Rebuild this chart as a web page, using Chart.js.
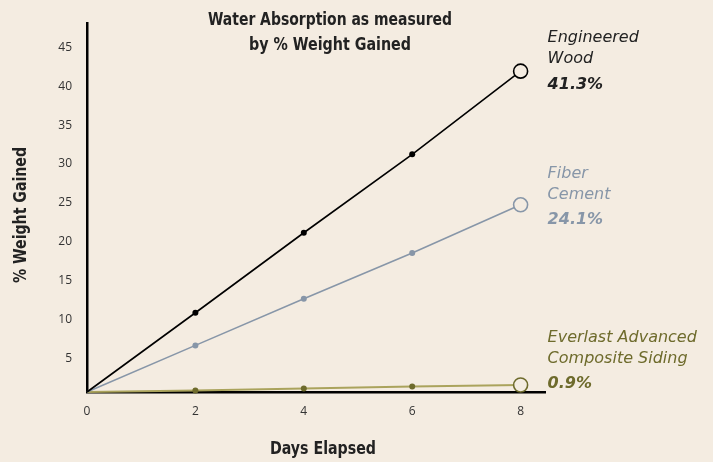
<!DOCTYPE html>
<html>
<head>
<meta charset="utf-8">
<script src="https://cdn.jsdelivr.net/npm/chart.js@4.4.0/dist/chart.umd.min.js"></script>
<style>
  html, body { margin: 0; padding: 0; background: #f4ece1; }
  #wrap { width: 713px; height: 462px; position: relative; }
</style>
</head>
<body>
<div id="wrap"><canvas id="c" width="713" height="462"></canvas></div>
<script>
// ---- data ----
const days = [0, 2, 4, 6, 8];
const engineeredWood = [0, 10.2, 20.5, 30.6, 41.3];
const fiberCement = [0, 6.0, 12.0, 17.9, 24.1];
const everlast = [0, 0.2, 0.45, 0.7, 0.9];
const seriesNames = [["Engineered", "Wood"], ["Fiber", "Cement"], ["Everlast Advanced", "Composite Siding"]];
const seriesLabels = ["41.3%", "24.1%", "0.9%"];
const yTicks = [5, 10, 15, 20, 25, 30, 35, 40, 45];
const xTicks = [0, 2, 4, 6, 8];
const titleLines = ["Water Absorption as measured", "by % Weight Gained"];
const xTitle = "Days Elapsed";
const yTitle = "% Weight Gained";

const BG = '#f4ece1';
const COND = '"Liberation Sans Narrow", "DejaVu Sans Condensed", "Roboto", sans-serif';
const ITAL = '"DejaVu Sans", "Open Sans", sans-serif';

const styles = [
  { line: '#000000', point: '#000000', text: '#222222', offsets: [-33, -12, 14] },
  { line: '#8796a8', point: '#8796a8', text: '#8796a8', offsets: [-31, -10, 15] },
  { line: '#aaa35c', point: '#6e6b2c', text: '#6e6b2c', offsets: [-47, -26, -1] }
];

function pts(vals) { return vals.map((v, i) => ({ x: days[i], y: v })); }
function radii(n) { return Array.from({ length: n }, (_, i) => i === n - 1 ? 7 : (i === 0 ? 0 : 3)); }

const seriesData = [engineeredWood, fiberCement, everlast];
const datasets = seriesData.map((vals, k) => ({
  label: seriesNames[k].join(' '),
  data: pts(vals),
  borderColor: styles[k].line,
  borderWidth: k === 2 ? 2 : 1.6,
  pointRadius: radii(vals.length),
  pointBackgroundColor: vals.map((_, i) => i === vals.length - 1 ? BG : styles[k].point),
  pointBorderColor: styles[k].point,
  pointBorderWidth: vals.map((_, i) => i === vals.length - 1 ? 1.6 : 0),
  tension: 0,
  clip: false
}));

function textW(ctx, text, cx, cy, targetW) {
  const w = ctx.measureText(text).width;
  const sx = Math.min(1, targetW / w);
  ctx.save();
  ctx.translate(cx, cy);
  ctx.scale(sx, 1);
  ctx.fillText(text, 0, 0);
  ctx.restore();
}

const textPlugin = {
  id: 'texts',
  afterDraw(chart) {
    const ctx = chart.ctx;
    const xs = chart.scales.x, ys = chart.scales.y;
    ctx.save();
    // title
    ctx.fillStyle = '#222';
    ctx.font = 'bold 18px ' + COND;
    ctx.textAlign = 'center';
    ctx.textBaseline = 'middle';
    textW(ctx, titleLines[0], 330, 20, 244);
    textW(ctx, titleLines[1], 330, 45, 162);
    // axis titles
    ctx.font = 'bold 17px ' + COND;
    textW(ctx, xTitle, 323, 450, 106);
    ctx.save();
    ctx.translate(22, 215);
    ctx.rotate(-Math.PI / 2);
    textW(ctx, yTitle, 0, 0, 136);
    ctx.restore();
    // series labels
    ctx.textAlign = 'left';
    seriesData.forEach((vals, k) => {
      const last = vals.length - 1;
      const py = ys.getPixelForValue(vals[last]);
      const px = xs.getPixelForValue(days[last]) + 27;
      const st = styles[k];
      ctx.fillStyle = st.text;
      ctx.font = 'oblique 16px ' + ITAL;
      ctx.fillText(seriesNames[k][0], px, py + st.offsets[0]);
      ctx.fillText(seriesNames[k][1], px, py + st.offsets[1]);
      ctx.font = 'oblique bold 16px ' + ITAL;
      ctx.fillText(seriesLabels[k], px, py + st.offsets[2]);
    });
    ctx.restore();
  }
};

const bgPlugin = {
  id: 'bg',
  beforeDraw(chart) {
    const ctx = chart.ctx;
    ctx.save();
    ctx.fillStyle = BG;
    ctx.fillRect(0, 0, chart.width, chart.height);
    ctx.restore();
  }
};

new Chart(document.getElementById('c'), {
  type: 'line',
  data: { datasets },
  plugins: [bgPlugin, textPlugin],
  options: {
    responsive: false,
    animation: false,
    layout: { padding: { left: 0, top: 23, right: 168, bottom: 0 } },
    plugins: { legend: { display: false }, title: { display: false }, tooltip: { enabled: false } },
    scales: {
      x: {
        type: 'linear',
        min: 0,
        max: 8.45,
        afterBuildTicks(scale) { scale.ticks = xTicks.map(v => ({ value: v })); },
        afterFit(scale) { scale.height = 70; },
        grid: { display: false, drawTicks: false },
        border: { display: true, color: '#000', width: 2.5 },
        ticks: { color: '#333', font: { size: 12, family: '"Open Sans", sans-serif' }, padding: 12, maxRotation: 0 }
      },
      y: {
        type: 'linear',
        min: 0,
        max: 47.5,
        afterBuildTicks(scale) { scale.ticks = yTicks.map(v => ({ value: v })); },
        afterFit(scale) { scale.width = 87; },
        grid: { display: false, drawTicks: false },
        border: { display: true, color: '#000', width: 2.5 },
        ticks: { color: '#333', font: { size: 12, family: '"Open Sans", sans-serif' }, padding: 15, labelOffset: 5 }
      }
    }
  }
});
</script>
</body>
</html>
